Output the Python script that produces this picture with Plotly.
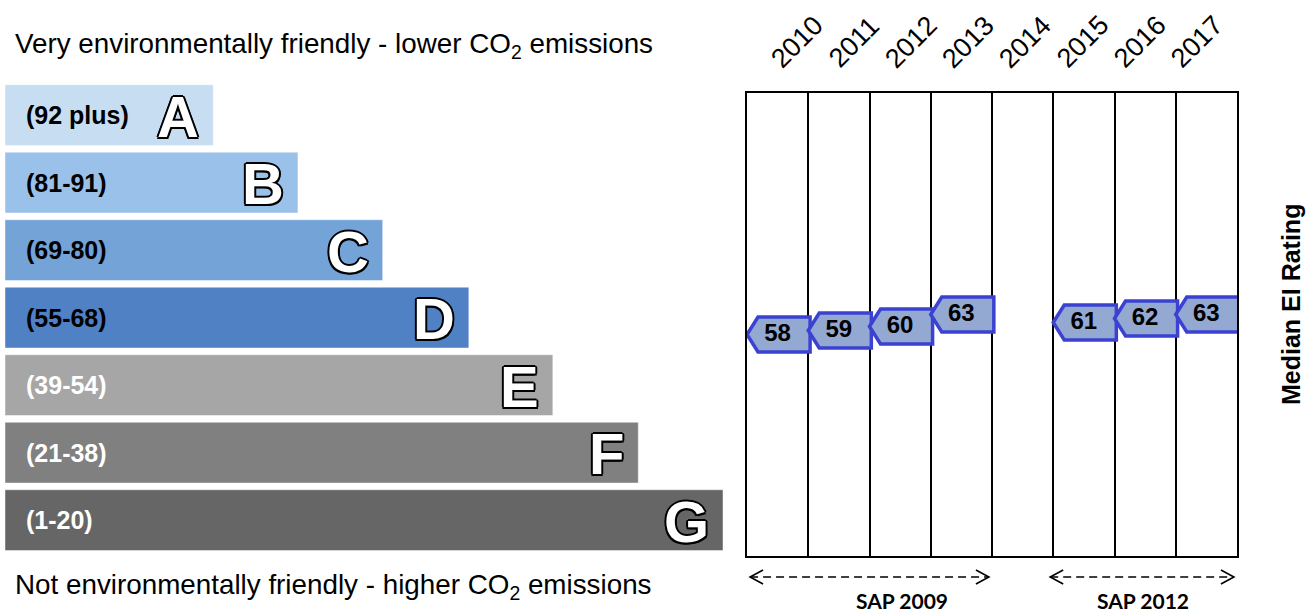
import plotly.graph_objects as go

# ---- Energy band chart (left) ----
bands = ["A", "B", "C", "D", "E", "F", "G"]
band_ranges = ["(92 plus)", "(81-91)", "(69-80)", "(55-68)", "(39-54)", "(21-38)", "(1-20)"]
bar_lengths = [29.0, 40.8, 52.6, 64.6, 76.3, 88.2, 100.0]   # relative to longest bar
bar_colors = ["#C7DDF2", "#9AC1EA", "#74A3D7", "#4F81C4", "#A6A6A6", "#808080", "#666666"]
range_text_colors = ["#000000", "#000000", "#000000", "#000000", "#FFFFFF", "#FFFFFF", "#FFFFFF"]

# ---- Median EI rating per year (right) ----
years = ["2010", "2011", "2012", "2013", "2014", "2015", "2016", "2017"]
median_ei = [58, 59, 60, 63, None, 61, 62, 63]

sap_groups = ["SAP 2009", "SAP 2012"]

W, H = 1306, 613


def px_x(p):
    return p / W


def px_y(p):
    return 1 - p / H


fig = go.Figure()

fig.add_trace(go.Bar(
    orientation="h",
    x=bar_lengths,
    y=bands,
    marker=dict(color=bar_colors, line=dict(color="rgba(255,255,255,0.45)", width=1)),
    xaxis="x", yaxis="y",
    hoverinfo="skip",
    showlegend=False,
))

annotations = []
outline = ("-1.5px -1.5px 0 #000, 1.5px -1.5px 0 #000, -1.5px 1.5px 0 #000, "
           "1.5px 1.5px 0 #000, 2px 0 0 #000, -2px 0 0 #000, 0 2px 0 #000, 0 -2px 0 #000")
for band, rng, length, tcol in zip(bands, band_ranges, bar_lengths, range_text_colors):
    annotations.append(dict(
        x=0, y=band, xref="x", yref="y", text=f"<b>{rng}</b>",
        xanchor="left", yanchor="middle", xshift=19, showarrow=False,
        font=dict(family="Liberation Sans, Arial", size=25, color=tcol),
    ))
    annotations.append(dict(
        x=length, y=band, xref="x", yref="y", text=f"<b>{band}</b>",
        xanchor="right", yanchor="middle", xshift=-12, yshift=-1, showarrow=False,
        font=dict(family="Liberation Sans, Arial", size=58, color="#FFFFFF", shadow=outline),
    ))

annotations.append(dict(
    x=px_x(13), y=px_y(45), xref="paper", yref="paper",
    text="Very environmentally friendly - lower CO<sub>2</sub> emissions",
    xanchor="left", yanchor="middle", showarrow=False,
    font=dict(family="Liberation Sans, Arial", size=27.8, color="#000000"),
))
annotations.append(dict(
    x=px_x(13), y=px_y(586), xref="paper", yref="paper",
    text="Not environmentally friendly - higher CO<sub>2</sub> emissions",
    xanchor="left", yanchor="middle", showarrow=False,
    font=dict(family="Liberation Sans, Arial", size=27.8, color="#000000"),
))

# Rating markers: left-pointing tags, one per year column
shapes = []
xs, ys, labels = [], [], []
for i, v in enumerate(median_ei):
    if v is None:
        continue
    x0 = i - 0.5
    xn = x0 + 0.18
    x1 = i + 0.53
    shapes.append(dict(
        type="path", xref="x2", yref="y2", ysizemode="pixel", yanchor=v,
        path=f"M {x0},0 L {xn},17.5 L {x1},17.5 L {x1},-17.5 L {xn},-17.5 Z",
        fillcolor="#93A9D2", line=dict(color="#3B42D2", width=3.5), layer="between",
    ))
    xs.append(i)
    ys.append(v)
    labels.append(f"<b>{v}</b>")

fig.add_trace(go.Scatter(
    x=xs, y=ys, text=labels, mode="text", textposition="middle center",
    textfont=dict(family="Liberation Sans, Arial", size=24, color="#000000"),
    xaxis="x2", yaxis="y2", hoverinfo="skip", showlegend=False, cliponaxis=False,
))

# Year labels along the top
for i, yr in enumerate(years):
    annotations.append(dict(
        x=px_x(797 + 57.1 * i), y=px_y(42), xref="paper", yref="paper",
        text=yr, textangle=-45, showarrow=False, xanchor="center", yanchor="middle",
        font=dict(family="Liberation Sans, Arial", size=27, color="#000000"),
    ))

annotations.append(dict(
    x=px_x(1291), y=px_y(305), xref="paper", yref="paper",
    text="<b>Median EI Rating</b>", textangle=-90, showarrow=False,
    xanchor="center", yanchor="middle",
    font=dict(family="Liberation Sans, Arial", size=25, color="#000000"),
))

# SAP period arrows
sap_spans = [(-0.45, 3.45), (4.45, 7.45)]
sap_label_px = [902, 1143]
arrow_y = px_y(577)
for (a, b), name, lx in zip(sap_spans, sap_groups, sap_label_px):
    shapes.append(dict(type="line", xref="x2", yref="paper", x0=a, x1=b, y0=arrow_y, y1=arrow_y,
                       line=dict(color="#000000", width=1.5, dash="8px,5px")))
    shapes.append(dict(type="path", xref="x2", yref="paper", xsizemode="pixel", ysizemode="pixel",
                       xanchor=a, yanchor=arrow_y, path="M 13,7 L 0,0 L 13,-7",
                       line=dict(color="#000000", width=1.6)))
    shapes.append(dict(type="path", xref="x2", yref="paper", xsizemode="pixel", ysizemode="pixel",
                       xanchor=b, yanchor=arrow_y, path="M -13,7 L 0,0 L -13,-7",
                       line=dict(color="#000000", width=1.6)))
    annotations.append(dict(
        x=px_x(lx), y=px_y(600), xref="paper", yref="paper", text=f"<b>{name}</b>",
        showarrow=False, xanchor="center", yanchor="middle",
        font=dict(family="Lato, Open Sans", size=21, color="#000000"),
    ))

fig.update_layout(
    width=W, height=H,
    margin=dict(l=0, r=0, t=0, b=0),
    paper_bgcolor="#FFFFFF", plot_bgcolor="#FFFFFF",
    bargap=0.1,
    xaxis=dict(domain=[px_x(5), px_x(723)], range=[0, 100], visible=False, fixedrange=True),
    yaxis=dict(domain=[px_y(553.9), px_y(79.6)], categoryorder="array", categoryarray=bands,
               autorange="reversed", visible=False, fixedrange=True),
    xaxis2=dict(domain=[px_x(747), px_x(1237)], range=[-0.5, 7.5], anchor="y2",
                tickvals=[k + 0.5 for k in range(7)], showticklabels=False, ticks="",
                showgrid=True, gridcolor="#000000", gridwidth=1.5, zeroline=False,
                showline=True, linecolor="#000000", linewidth=1.5, mirror=True),
    yaxis2=dict(domain=[px_y(556), px_y(93)], range=[2.6, 118.4], anchor="x2",
                showgrid=False, showticklabels=False, ticks="", zeroline=False,
                showline=True, linecolor="#000000", linewidth=1.5, mirror=True),
    annotations=annotations,
    shapes=shapes,
    showlegend=False,
)

fig.write_html("out.html")
